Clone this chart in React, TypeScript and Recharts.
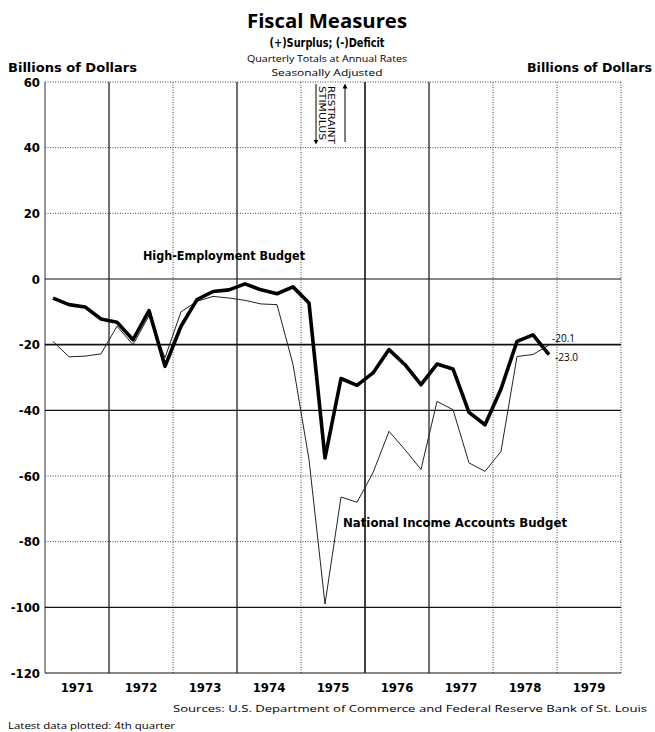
import React from "react";
import { LineChart, Line, XAxis, YAxis, ReferenceLine } from "recharts";

// quarterly totals at annual rates, billions of dollars, 1971 Q1 .. 1978 Q4
const YEARS = [1971, 1972, 1973, 1974, 1975, 1976, 1977, 1978];
const QUARTERS = [1, 2, 3, 4];

const HIGH_EMPLOYMENT = [
  -5.8, -7.8, -8.5, -12.2,
  -13.2, -18.5, -9.6, -26.6,
  -14.4, -6.3, -3.8, -3.3,
  -1.5, -3.3, -4.5, -2.4,
  -7.3, -54.5, -30.3, -32.4,
  -28.6, -21.5, -26.1, -32.2,
  -25.9, -27.4, -40.6, -44.4,
  -33.5, -19.0, -17.0, -23.0,
];

const NATIONAL_INCOME = [
  -19.0, -23.7, -23.5, -22.8,
  -14.4, -20.0, -11.2, -24.0,
  -10.0, -6.8, -5.3, -5.8,
  -6.5, -7.6, -7.8, -26.0,
  -55.0, -99.0, -66.4, -68.0,
  -59.0, -46.4, -52.0, -58.0,
  -37.3, -39.8, -56.0, -58.6,
  -52.5, -23.6, -23.0, -20.1,
];

const Y_TICKS = [60, 40, 20, 0, -20, -40, -60, -80, -100, -120];
const YEAR_TICKS = [1971, 1972, 1973, 1974, 1975, 1976, 1977, 1978, 1979];

const SOLID_Y = [0, -20, -40, -100, -120];
const DOTTED_Y = [60, 40, 20, -60, -80];
const SOLID_X = [1972, 1974, 1976, 1977];
const DOTTED_X = [1973, 1975, 1978, 1979];

const data = YEARS.flatMap((y, yi) =>
  QUARTERS.map((q, qi) => ({
    x: y + (q - 0.5) / 4,
    he: HIGH_EMPLOYMENT[yi * 4 + qi],
    nia: NATIONAL_INCOME[yi * 4 + qi],
  }))
);

const NARROW = "'DejaVu Sans Condensed', 'Liberation Sans Narrow', 'DejaVu Sans', sans-serif";
const PLAIN = "'Open Sans', 'DejaVu Sans', sans-serif";

const tickStyle = { fill: "#000", fontFamily: NARROW, fontWeight: 700, fontSize: 13 };

export default function App() {
  return (
    <div style={{ position: "absolute", left: 0, top: 0, width: 655, height: 732, background: "#fff" }}>
      <LineChart
        width={655}
        height={732}
        data={data}
        margin={{ top: 82, right: 0, bottom: 29, left: 5 }}
      >
        <XAxis
          dataKey="x"
          type="number"
          domain={[1971, 1980]}
          ticks={YEAR_TICKS.map((y) => y + 0.5)}
          tickFormatter={(v: number) => String(Math.floor(v))}
          tick={tickStyle}
          tickLine={false}
          axisLine={false}
          tickSize={0}
          tickMargin={10}
          height={30}
          allowDataOverflow
        />
        <YAxis
          yAxisId="left"
          orientation="left"
          domain={[-120, 60]}
          ticks={Y_TICKS}
          tick={tickStyle}
          tickLine={false}
          axisLine={false}
          tickSize={0}
          tickMargin={5}
          width={40}
          interval={0}
        />
        <YAxis
          yAxisId="right"
          orientation="right"
          domain={[-120, 60]}
          ticks={Y_TICKS}
          tick={{ ...tickStyle, textAnchor: "start" }}
          tickLine={false}
          axisLine={false}
          tickSize={0}
          tickMargin={4}
          width={34}
          interval={0}
        />

        {DOTTED_Y.map((v) => (
          <ReferenceLine key={"dy" + v} yAxisId="left" y={v} stroke="#444" strokeDasharray="1 1.5" strokeWidth={1} />
        ))}
        {DOTTED_X.map((v) => (
          <ReferenceLine key={"dx" + v} yAxisId="left" x={v} stroke="#444" strokeDasharray="1 1.5" strokeWidth={1} />
        ))}
        <ReferenceLine yAxisId="left" x={1971} stroke="#333" strokeWidth={1} />
        <ReferenceLine yAxisId="left" x={1980} stroke="#444" strokeDasharray="1 1.5" strokeWidth={1} />
        {SOLID_X.map((v) => (
          <ReferenceLine key={"sx" + v} yAxisId="left" x={v} stroke="#111" strokeWidth={v === 1976 ? 1.6 : 1.2} />
        ))}
        {SOLID_Y.map((v) => (
          <ReferenceLine key={"sy" + v} yAxisId="left" y={v} stroke="#111" strokeWidth={v === -20 ? 1.6 : 1.2} />
        ))}

        <Line
          yAxisId="left"
          dataKey="nia"
          stroke="#222"
          strokeWidth={1}
          dot={false}
          isAnimationActive={false}
        />
        <Line
          yAxisId="left"
          dataKey="he"
          stroke="#000"
          strokeWidth={3.6}
          strokeLinejoin="round"
          dot={false}
          isAnimationActive={false}
        />
      </LineChart>

      <svg
        width={655}
        height={732}
        style={{ position: "absolute", left: 0, top: 0, pointerEvents: "none" }}
      >
        <defs>
          <marker id="ah" viewBox="0 0 6 6" refX="3" refY="3" markerWidth="5" markerHeight="5" orient="auto">
            <path d="M0,0 L6,3 L0,6 z" fill="#000" />
          </marker>
        </defs>
        <text x={327} y={28} textAnchor="middle" fontFamily={PLAIN} fontWeight={700} fontSize={20} textLength={160} lengthAdjust="spacingAndGlyphs">Fiscal Measures</text>
        <text x={327} y={47} textAnchor="middle" fontFamily={NARROW} fontWeight={700} fontSize={11.5} textLength={115} lengthAdjust="spacingAndGlyphs">(+)Surplus; (-)Deficit</text>
        <text x={327} y={62} textAnchor="middle" fontFamily={PLAIN} fontSize={9.5} textLength={160} lengthAdjust="spacingAndGlyphs">Quarterly Totals at Annual Rates</text>
        <text x={327} y={76} textAnchor="middle" fontFamily={PLAIN} fontSize={9.5} textLength={111} lengthAdjust="spacingAndGlyphs">Seasonally Adjusted</text>
        <text x={8} y={72} fontFamily={NARROW} fontWeight={700} fontSize={13} textLength={129} lengthAdjust="spacingAndGlyphs">Billions of Dollars</text>
        <text x={652} y={72} textAnchor="end" fontFamily={NARROW} fontWeight={700} fontSize={13} textLength={125} lengthAdjust="spacingAndGlyphs">Billions of Dollars</text>

        <line x1={316} y1={84} x2={316} y2={142} stroke="#000" strokeWidth={1} markerEnd="url(#ah)" />
        <line x1={345} y1={142} x2={345} y2={86} stroke="#000" strokeWidth={1} markerEnd="url(#ah)" />
        <text transform="translate(319,86) rotate(90)" fontFamily={NARROW} fontSize={9.5} textLength={54} lengthAdjust="spacingAndGlyphs">STIMULUS</text>
        <text transform="translate(328,86) rotate(90)" fontFamily={NARROW} fontSize={9.5} textLength={58} lengthAdjust="spacingAndGlyphs">RESTRAINT</text>

        <text x={143} y={260} fontFamily={NARROW} fontWeight={700} fontSize={13} textLength={162} lengthAdjust="spacingAndGlyphs">High-Employment Budget</text>
        <text x={343} y={527} fontFamily={NARROW} fontWeight={700} fontSize={13} textLength={224} lengthAdjust="spacingAndGlyphs">National Income Accounts Budget</text>
        <text x={552} y={342} fontFamily={PLAIN} fontSize={10}>-20.1</text>
        <text x={555} y={361} fontFamily={PLAIN} fontSize={10}>-23.0</text>

        <text x={647} y={712} textAnchor="end" fontFamily={PLAIN} fontSize={9.5} textLength={474} lengthAdjust="spacingAndGlyphs">Sources: U.S. Department of Commerce and Federal Reserve Bank of St. Louis</text>
        <text x={8} y={729} fontFamily={PLAIN} fontSize={9.5} textLength={167} lengthAdjust="spacingAndGlyphs">Latest data plotted: 4th quarter</text>
      </svg>
    </div>
  );
}
